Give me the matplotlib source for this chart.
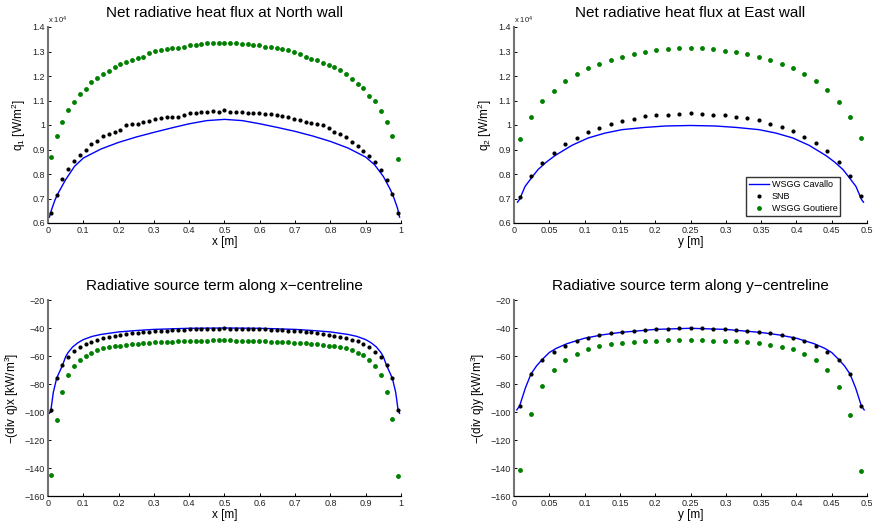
import numpy as np
import matplotlib
matplotlib.use("Agg")
from matplotlib import pyplot as plt
from matplotlib.ticker import FuncFormatter

plt.rcParams['font.family'] = ['Liberation Sans', 'DejaVu Sans']
plt.rcParams['mathtext.fontset'] = 'custom'
plt.rcParams['mathtext.rm'] = 'Liberation Sans'
plt.rcParams['mathtext.default'] = 'regular'

# ---------------------------------------------------------------------------
# data
# ---------------------------------------------------------------------------
# cell-centre grids: 61 cells along x (1 m), 31 cells along y (0.5 m)
x_cells = np.linspace(1 / 122, 1 - 1 / 122, 61)
y_cells = np.linspace(0.5 / 62, 0.5 - 0.5 / 62, 31)

# North wall heat flux [W/m2]
north_snb = [6400, 7130, 7780, 8190, 8530, 8790, 8980, 9240, 9360, 9540,
             9630, 9700, 9780, 9990, 10060, 10040, 10110, 10180, 10250, 10270,
             10340, 10340, 10340, 10420, 10510, 10510, 10550, 10550, 10580, 10550,
             10600, 10550, 10550, 10550, 10500, 10500, 10490, 10460, 10430, 10410,
             10380, 10310, 10250, 10220, 10140, 10080, 10040, 9990, 9860, 9700,
             9620, 9510, 9320, 9130, 8950, 8720, 8500, 8150, 7760, 7180,
             6420]
north_gout = [8680, 9550, 10110, 10600, 10940, 11250, 11470, 11750, 11900, 12080,
              12220, 12380, 12500, 12580, 12640, 12750, 12790, 12940, 13030, 13080,
              13120, 13140, 13160, 13200, 13250, 13280, 13310, 13330, 13350, 13350,
              13360, 13350, 13330, 13310, 13310, 13280, 13250, 13200, 13170, 13130,
              13100, 13050, 12980, 12900, 12780, 12710, 12640, 12540, 12450, 12350,
              12230, 12070, 11880, 11690, 11510, 11200, 10990, 10590, 10140, 9570,
              8630]
north_cav_x = [0.004, 0.01, 0.02, 0.03, 0.05, 0.075, 0.1, 0.15, 0.2, 0.25, 0.3,
               0.35, 0.4, 0.45, 0.5, 0.55, 0.6, 0.65, 0.7, 0.75, 0.8, 0.85, 0.9,
               0.925, 0.95, 0.97, 0.98, 0.99, 0.996]
north_cav = [6240, 6540, 6950, 7250, 7770, 8310, 8650, 9020, 9290, 9510, 9700,
             9880, 10050, 10180, 10230, 10180, 10050, 9900, 9740, 9550, 9330, 9060, 8690,
             8380, 7900, 7360, 7020, 6610, 6240]

# East wall heat flux [W/m2]
east_snb = [7050, 7900, 8430, 8870, 9210, 9480, 9730, 9880, 10040, 10180,
            10240, 10360, 10420, 10420, 10460, 10490, 10460, 10420, 10390, 10340,
            10290, 10190, 10040, 9900, 9740, 9510, 9250, 8920, 8490, 7920,
            7090]
east_gout = [9440, 10330, 10960, 11400, 11780, 12080, 12340, 12500, 12650, 12780,
             12900, 13000, 13060, 13100, 13130, 13130, 13130, 13090, 13030, 12980,
             12900, 12790, 12670, 12500, 12310, 12070, 11780, 11410, 10940, 10330,
             9470]
east_cav_x = [0.005, 0.008, 0.0156, 0.025, 0.034, 0.046, 0.058, 0.082, 0.105, 0.129,
              0.153, 0.185, 0.215, 0.25, 0.285, 0.315, 0.347, 0.371, 0.395, 0.418,
              0.442, 0.454, 0.466, 0.475, 0.4844, 0.492, 0.495]
east_cav = [6850, 6970, 7490, 7850, 8180, 8490, 8750, 9170, 9470, 9670,
            9810, 9900, 9960, 9980, 9960, 9900, 9810, 9670, 9470, 9170,
            8750, 8490, 8180, 7850, 7490, 6970, 6850]

# source term along x-centreline [kW/m3]
srcx_snb = [-98.7, -75.8, -66.7, -60.5, -56.7, -53.9, -51.5, -49.8, -48.6, -47.4,
            -46.5, -45.8, -45.0, -44.3, -43.8, -43.4, -42.9, -42.7, -42.2, -42.2,
            -41.9, -41.5, -41.2, -41.2, -41.0, -40.7, -40.7, -40.5, -40.5, -40.5,
            -40.3, -40.4, -40.5, -40.5, -40.6, -40.7, -40.8, -41.0, -41.2, -41.3,
            -41.6, -41.9, -42.1, -42.4, -42.8, -43.2, -43.6, -44.2, -44.8, -45.6,
            -46.4, -47.3, -48.4, -49.6, -51.3, -53.7, -56.8, -60.5, -66.4, -75.4,
            -98.6]
srcx_gout = [-145.2, -105.4, -85.6, -73.7, -67.2, -63.2, -59.8, -57.7, -55.8, -54.6,
             -53.9, -53.2, -52.7, -52.2, -51.7, -51.2, -51.0, -50.8, -50.3, -50.0,
             -49.8, -49.8, -49.6, -49.6, -49.3, -49.3, -49.1, -49.1, -48.9, -48.9,
             -48.9, -48.9, -49.0, -49.1, -49.1, -49.3, -49.4, -49.6, -49.7, -49.8,
             -49.9, -50.1, -50.4, -50.8, -51.0, -51.3, -51.7, -52.2, -52.7, -53.2,
             -53.9, -54.6, -55.8, -57.5, -59.6, -62.9, -67.0, -73.5, -85.4, -105.3,
             -145.7]
srcx_cav_x = [0.004, 0.0082, 0.015, 0.0246, 0.041, 0.05, 0.057, 0.07, 0.085, 0.1,
              0.125, 0.15, 0.2, 0.25, 0.3, 0.4, 0.5, 0.6, 0.7, 0.75, 0.8, 0.85,
              0.875, 0.9, 0.915, 0.93, 0.943, 0.95, 0.959, 0.9754, 0.985, 0.9918, 0.996]
srcx_cav = [-101.0, -98.7, -86.0, -75.8, -66.7, -60.5, -57.5, -53.5, -50.5, -48.3,
            -46.0, -44.6, -42.8, -41.8, -41.0, -40.2, -40.0, -40.2, -41.0, -41.8,
            -42.8, -44.6, -46.0, -48.3, -50.5, -53.5, -57.5, -60.5, -66.7, -75.8,
            -86.0, -98.7, -101.0]

# source term along y-centreline [kW/m3]
srcy_snb = [-95.6, -72.9, -62.9, -57.0, -52.9, -49.3, -47.2, -45.3, -43.8, -42.7,
            -41.9, -41.2, -41.0, -40.7, -40.3, -40.3, -40.3, -40.5, -41.0, -41.5,
            -42.2, -42.7, -43.8, -45.3, -46.9, -49.3, -52.7, -57.0, -62.9, -72.9,
            -95.6]
srcy_gout = [-141.6, -101.6, -81.5, -70.1, -62.9, -58.6, -55.3, -53.2, -51.7, -50.5,
             -49.8, -49.3, -49.1, -48.9, -48.6, -48.6, -48.9, -49.1, -49.3, -49.6,
             -50.3, -51.0, -52.2, -53.4, -55.3, -58.6, -62.9, -70.1, -82.0, -102.3,
             -142.1]
srcy_cav_x = [0.004, 0.008, 0.016, 0.024, 0.032, 0.04, 0.05, 0.06, 0.075, 0.1,
              0.125, 0.15, 0.2, 0.25, 0.3, 0.35, 0.375, 0.4, 0.425, 0.44, 0.45,
              0.46, 0.468, 0.476, 0.484, 0.492, 0.496]
srcy_cav = [-98.5, -95.6, -83.0, -72.9, -67.0, -62.5, -57.5, -54.5, -51.2, -47.3,
            -44.9, -43.2, -41.0, -40.2, -41.0, -43.2, -44.9, -47.3, -51.2, -54.5,
            -57.5, -62.5, -67.0, -72.9, -83.0, -95.6, -98.5]

labels = ["WSGG Cavallo", "SNB", "WSGG Goutiere"]

BLUE = '#0000ff'
GREEN = '#008000'

# ---------------------------------------------------------------------------
# figure
# ---------------------------------------------------------------------------
fig = plt.figure(figsize=(8.74, 5.25), dpi=100)
W, H = 874, 525


def add_axes(left, right, top, bottom):
    return fig.add_axes([left / W, 1 - bottom / H, (right - left) / W, (bottom - top) / H])


def style(ax):
    ax.spines['top'].set_visible(False)
    ax.spines['right'].set_visible(False)
    ax.spines['left'].set_color('0.45')
    ax.spines['left'].set_linewidth(1.5)
    ax.spines['bottom'].set_linewidth(0.9)
    ax.tick_params(direction='in', length=2.5, width=0.7, labelsize=6.5,
                   labelcolor='#222222', pad=2)


def draw(ax, xg, snb, gout, cx, cav):
    ax.plot(cx, cav, color=BLUE, lw=1.0, label=labels[0])
    ax.plot(xg, snb, ls='none', marker='o', ms=3.0, mew=0, color='black', label=labels[1])
    ax.plot(xg, gout, ls='none', marker='o', ms=3.5, mew=0, color=GREEN, label=labels[2])


ax1 = add_axes(48, 401, 27, 223)
ax2 = add_axes(514, 867, 27, 223)
ax3 = add_axes(48, 401, 300, 496)
ax4 = add_axes(514, 867, 300, 496)

draw(ax1, x_cells, north_snb, north_gout, north_cav_x, north_cav)
draw(ax2, y_cells, east_snb, east_gout, east_cav_x, east_cav)
draw(ax3, x_cells, srcx_snb, srcx_gout, srcx_cav_x, srcx_cav)
draw(ax4, y_cells, srcy_snb, srcy_gout, srcy_cav_x, srcy_cav)

sci = FuncFormatter(lambda v, p: f"{v / 1e4:g}")
for ax in (ax1, ax2):
    ax.set_ylim(6000, 14000)
    ax.set_yticks(np.arange(6000, 14001, 1000))
    ax.yaxis.set_major_formatter(sci)
    ax.text(0.0, 1.005, r"x 10$^4$", transform=ax.transAxes, fontsize=5.5,
            ha='left', va='bottom', color='#222222')
for ax in (ax3, ax4):
    ax.set_ylim(-160, -20)
    ax.set_yticks(np.arange(-160, -19, 20))

for ax in (ax1, ax3):
    ax.set_xlim(0, 1)
    ax.set_xticks(np.arange(0, 1.01, 0.1))
    ax.set_xlabel("x [m]", fontsize=8.5, labelpad=1)
for ax in (ax2, ax4):
    ax.set_xlim(0, 0.5)
    ax.set_xticks(np.arange(0, 0.501, 0.05))
    ax.set_xlabel("y [m]", fontsize=8.5, labelpad=1)

fmt = FuncFormatter(lambda v, p: f"{v:g}")
for ax in (ax1, ax2, ax3, ax4):
    ax.xaxis.set_major_formatter(fmt)
    style(ax)

ax1.set_ylabel(r"q$_1$ [W/m$^2$]", fontsize=8.5, labelpad=3)
ax2.set_ylabel(r"q$_2$ [W/m$^2$]", fontsize=8.5, labelpad=3)
ax3.set_ylabel(r"−(div q)x [kW/m$^3$]", fontsize=8.5, labelpad=3)
ax4.set_ylabel(r"−(div q)y [kW/m$^3$]", fontsize=8.5, labelpad=3)

ax1.set_title("Net radiative heat flux at North wall", fontsize=11, pad=7)
ax2.set_title("Net radiative heat flux at East wall", fontsize=11, pad=7)
ax3.set_title("Radiative source term along x−centreline", fontsize=11, pad=7)
ax4.set_title("Radiative source term along y−centreline", fontsize=11, pad=7)

leg = ax2.legend(loc='lower right', bbox_to_anchor=(0.924, 0.036), borderaxespad=0,
                 fontsize=6.5, frameon=True, fancybox=False, handlelength=2.2,
                 handletextpad=0.3, borderpad=0.3, labelspacing=0.35)
leg.get_frame().set_edgecolor('black')
leg.get_frame().set_linewidth(1.0)

fig.savefig("out.png", dpi=100)
